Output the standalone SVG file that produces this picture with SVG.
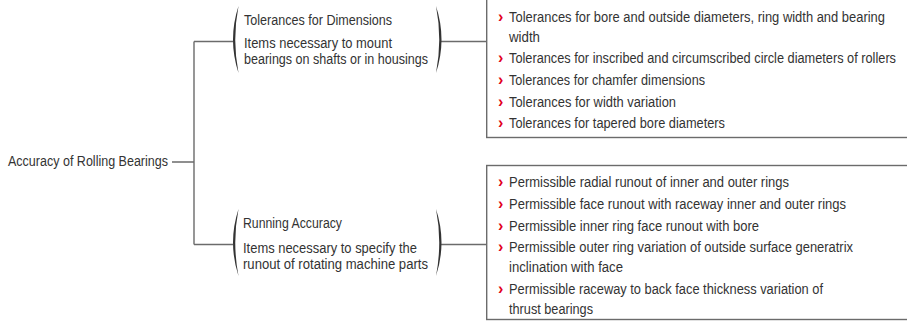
<svg xmlns="http://www.w3.org/2000/svg" width="907" height="323" viewBox="0 0 907 323">
<style>
  text { font-family: "Liberation Sans", Arial, sans-serif; font-size: 15.5px; fill: #333333; }
  .b { fill: #e2001a; font-weight: bold; font-size: 16px; }
  .ln { fill: none; stroke: #6b6b6b; stroke-width: 1.4; }
  .par { fill: #333333; stroke: none; }
  .box { fill: #ffffff; stroke: #6b6b6b; stroke-width: 1.4; }
</style>
<rect width="907" height="323" fill="#ffffff"/>
<g id="connectors">
  <path class="ln" d="M172,162 H194 M194,41.5 V244.5 M194,41.5 H233 M194,244.5 H233 M441,41.5 H487 M441,244.5 H487"/>
</g>
<g id="root">
  <text x="8" y="166" textLength="160" lengthAdjust="spacingAndGlyphs">Accuracy of Rolling Bearings</text>
</g>
<g id="dimensions">
  <path class="par" d="M238.5,6 Q227.5,39.5 238.5,73 Q232,39.5 238.5,6 Z"/>
  <path class="par" d="M436,6 Q447,39.5 436,73 Q442.5,39.5 436,6 Z"/>
  <text x="244" y="25" textLength="148" lengthAdjust="spacingAndGlyphs">Tolerances for Dimensions</text>
  <text x="244" y="48" textLength="148" lengthAdjust="spacingAndGlyphs">Items necessary to mount</text>
  <text x="244" y="64" textLength="184" lengthAdjust="spacingAndGlyphs">bearings on shafts or in housings</text>
</g>
<g id="running">
  <path class="par" d="M238.5,209 Q227.5,242.5 238.5,276 Q232,242.5 238.5,209 Z"/>
  <path class="par" d="M436,209 Q447,242.5 436,276 Q442.5,242.5 436,209 Z"/>
  <text x="243" y="228" textLength="99" lengthAdjust="spacingAndGlyphs">Running Accuracy</text>
  <text x="243" y="253" textLength="174" lengthAdjust="spacingAndGlyphs">Items necessary to specify the</text>
  <text x="243" y="269" textLength="185" lengthAdjust="spacingAndGlyphs">runout of rotating machine parts</text>
</g>
<g id="dimensions-list">
  <rect class="box" x="486.7" y="-5" width="440" height="142.5"/>
  <text class="b" x="498" y="22">›</text>
  <text x="509" y="22" textLength="376" lengthAdjust="spacingAndGlyphs">Tolerances for bore and outside diameters, ring width and bearing</text>
  <text x="509" y="42" textLength="31" lengthAdjust="spacingAndGlyphs">width</text>
  <text class="b" x="498" y="63">›</text>
  <text x="509" y="63" textLength="387" lengthAdjust="spacingAndGlyphs">Tolerances for inscribed and circumscribed circle diameters of rollers</text>
  <text class="b" x="498" y="85">›</text>
  <text x="509" y="85" textLength="196" lengthAdjust="spacingAndGlyphs">Tolerances for chamfer dimensions</text>
  <text class="b" x="498" y="107">›</text>
  <text x="509" y="107" textLength="167" lengthAdjust="spacingAndGlyphs">Tolerances for width variation</text>
  <text class="b" x="498" y="128">›</text>
  <text x="509" y="128" textLength="216" lengthAdjust="spacingAndGlyphs">Tolerances for tapered bore diameters</text>
</g>
<g id="running-list">
  <rect class="box" x="486.7" y="165.5" width="440" height="154"/>
  <text class="b" x="498" y="187">›</text>
  <text x="509" y="187" textLength="280" lengthAdjust="spacingAndGlyphs">Permissible radial runout of inner and outer rings</text>
  <text class="b" x="498" y="209">›</text>
  <text x="509" y="209" textLength="337" lengthAdjust="spacingAndGlyphs">Permissible face runout with raceway inner and outer rings</text>
  <text class="b" x="498" y="231">›</text>
  <text x="509" y="231" textLength="250" lengthAdjust="spacingAndGlyphs">Permissible inner ring face runout with bore</text>
  <text class="b" x="498" y="252">›</text>
  <text x="509" y="252" textLength="344" lengthAdjust="spacingAndGlyphs">Permissible outer ring variation of outside surface generatrix</text>
  <text x="509" y="272" textLength="114" lengthAdjust="spacingAndGlyphs">inclination with face</text>
  <text class="b" x="498" y="294">›</text>
  <text x="509" y="294" textLength="314" lengthAdjust="spacingAndGlyphs">Permissible raceway to back face thickness variation of</text>
  <text x="509" y="314" textLength="84" lengthAdjust="spacingAndGlyphs">thrust bearings</text>
</g>
</svg>
